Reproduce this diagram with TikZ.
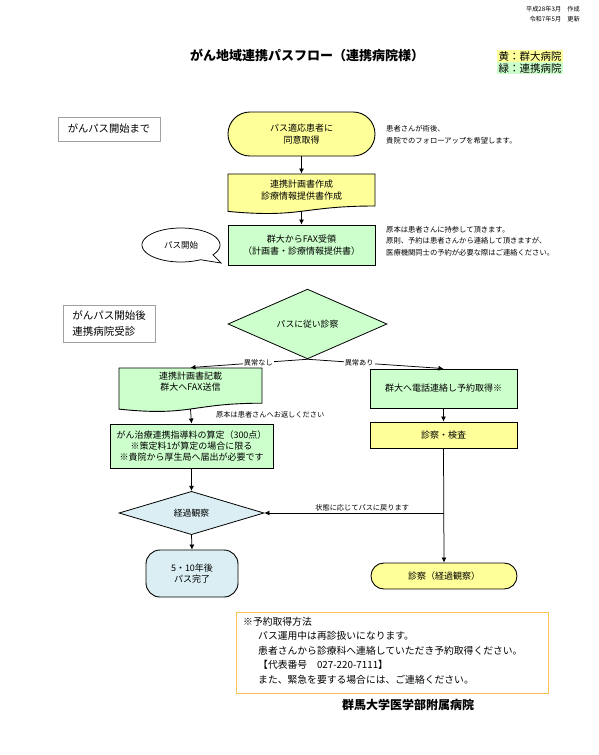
\documentclass[tikz,border=0pt]{standalone}
\usepackage{fontspec}
\setmainfont{Noto Sans CJK JP}
\usetikzlibrary{arrows.meta,shapes.geometric,calc}
\definecolor{yel}{HTML}{FFFF99}
\definecolor{grn}{HTML}{CCFFCC}
\definecolor{blu}{HTML}{DAEEF3}
\definecolor{org}{HTML}{FAC35A}
\definecolor{gry}{HTML}{A0A0A0}
\newcommand\jfs[2]{\fontsize{#1}{#2}\selectfont}
\begin{document}
\begin{tikzpicture}[x=1pt,y=-1pt,
  box/.style={draw=black, line width=0.9pt, minimum width=147pt, align=center, font=\jfs{9}{11.5}, inner sep=0pt},
  docshape/.style={draw=black, line width=0.9pt},
  dia/.style={diamond, draw=black, line width=0.8pt, inner sep=0pt, font=\jfs{8.8}{11.5}},
  sect/.style={draw=gry, line width=0.8pt, inner sep=0pt},
  arr/.style={-{Latex[length=5pt,width=5pt]}, line width=0.75pt},
  note/.style={align=left, inner sep=0pt, font=\jfs{7.3}{12}},
  lab/.style={inner sep=1pt, font=\jfs{7.2}{8}},
]
\useasboundingbox (0,0) rectangle (599,755);
\fill[white] (0,0) rectangle (599,755);
% header
\node[anchor=east, inner sep=0pt, font=\jfs{6.2}{8}] (dt1) at (580,9) {平成28年3月　作成};
\node[anchor=east, inner sep=0pt, font=\jfs{6.2}{8}] (dt2) at (580,19) {令和7年5月　更新};
\node[inner sep=0pt, font=\bfseries\jfs{13}{15}] (title) at (307,55) {がん地域連携パスフロー（連携病院様）};
\node[fill=yel, anchor=north west, minimum width=66pt, minimum height=12pt, inner sep=0pt, font=\jfs{10.5}{12}] (lg1) at (497,50) {黄：群大病院};
\node[fill=grn, anchor=north west, minimum width=66pt, minimum height=12pt, inner sep=0pt, font=\jfs{10.5}{12}] (lg2) at (497,62) {緑：連携病院};
% part 1
\node[sect, minimum width=102pt, minimum height=24pt, font=\jfs{10.3}{12}] (s1) at (109,129) {がんパス開始まで};
\node[box, fill=yel, rounded corners=21.9pt, minimum height=44pt] (t1) at (301.5,134) {パス適応患者に\\同意取得};
\draw[docshape, fill=yel] (228,174) -- (375,174) -- (375,206) .. controls (301.5,206) and (301.5,218.3) .. (228,211.4) -- cycle;
\node[box, draw=none, minimum height=32pt] (d1) at (301.5,190) {連携計画書作成\\診療情報提供書作成};
\coordinate (d1b) at (301.5,211.3);
\node[box, fill=grn, minimum height=40pt] (f1) at (301.5,245) {群大からFAX受領\\（計画書・診療情報提供書）};
\draw[line width=0.75pt, fill=white] plot[domain=60:395, samples=90] ({181+39*cos(\x)}, {245+17*sin(\x)}) -- (221,263) -- cycle;
\node[inner sep=0pt, font=\jfs{8.5}{10}] (c1) at (181,245) {パス開始};
\node[note, anchor=west] (n1) at (386,135) {患者さんが術後、\\貴院でのフォローアップを希望します。};
\node[note, anchor=west, font=\jfs{7.3}{11.5}] (n2) at (386,241) {原本は患者さんに持参して頂きます。\\原則、予約は患者さんから連絡して頂きますが、\\医療機関同士の予約が必要な際はご連絡ください。};
\draw[arr] (t1.south) -- (d1.north);
\draw[arr] (d1b) -- (f1.north);
% part 2
\node[sect, minimum width=92pt, minimum height=37pt, align=left, font=\jfs{10.5}{16}] (s2) at (109,323.5) {がんパス開始後\\連携病院受診};
\node[dia, fill=grn, minimum width=159pt, minimum height=36pt] (d2) at (307.5,324) {パスに従い診察};
\draw[docshape, fill=grn] (119,368) -- (262,368) -- (262,403.2) .. controls (190.5,403.2) and (190.5,416.7) .. (119,409.1) -- cycle;
\node[box, draw=none, minimum width=143pt, minimum height=27pt] (dl) at (190.5,381.5) {連携計画書記載\\群大へFAX送信};
\coordinate (dlb) at (190.5,409);
\node[lab, anchor=west, inner sep=0pt] (rt) at (216,415) {原本は患者さんへお返しください};
\node[box, fill=grn, minimum width=163pt, minimum height=44pt, font=\jfs{9}{11}] (g2) at (191.5,446) {がん治療連携指導料の算定（300点）\\※策定料1が算定の場合に限る\\※貴院から厚生局へ届出が必要です};
\node[dia, fill=blu, minimum width=145pt, minimum height=36pt] (k) at (191.5,513) {経過観察};
\node[box, fill=blu, rounded corners=14pt, minimum width=92pt, minimum height=47pt, font=\jfs{9}{11}] (b) at (192,573.5) {5・10年後\\パス完了};
\node[box, fill=grn, minimum height=39pt] (r1) at (443.5,388.5) {群大へ電話連絡し予約取得※};
\node[box, fill=yel, minimum height=26pt] (r2) at (443.5,435) {診察・検査};
\node[box, fill=yel, rounded corners=12.9pt, minimum width=146pt, minimum height=26pt] (e2) at (444,576) {診察（経過観察）};
\draw[arr] (d2.south) -- node[lab, fill=white, pos=0.42] (ln1) {異常なし} (dl.north);
\draw[arr] (d2.south) -- node[lab, fill=white, pos=0.38] (ln2) {異常あり} (r1.north);
\draw[arr] (dlb) -- (g2.north);
\draw[arr] (g2.south) -- (k.north);
\draw[arr] (k.south) -- (b.north);
\draw[arr] (r1.south) -- (r2.north);
\draw[arr] (r2.south) -- (e2.north);
\coordinate (jn) at (r2.south |- k.east);
\draw[arr] (jn) -- node[lab, above, pos=0.454, inner sep=2pt] (ln3) {状態に応じてパスに戻ります} (k.east);
% bottom
\node[draw=org, line width=1pt, anchor=north west, minimum width=312pt, minimum height=81pt, inner sep=0pt] (bx) at (236,612) {};
\node[anchor=north west, align=left, inner sep=0pt, font=\jfs{9.8}{14.5}] (bt) at (243,617) {※予約取得方法\\\hspace*{15pt}パス運用中は再診扱いになります。\\\hspace*{15pt}患者さんから診療科へ連絡していただき予約取得ください。\\\hspace*{15pt}【代表番号　027-220-7111】\\\hspace*{15pt}また、緊急を要する場合には、ご連絡ください。};
\node[inner sep=0pt, font=\bfseries\jfs{12}{14}] (hn) at (408,705) {群馬大学医学部附属病院};
\end{tikzpicture}
\end{document}
